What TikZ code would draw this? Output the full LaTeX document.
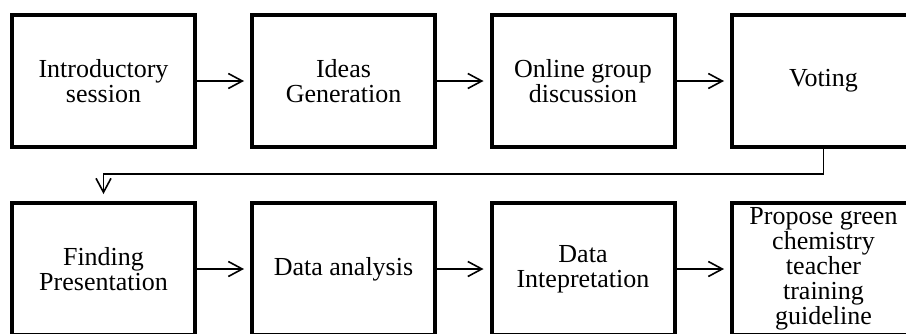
\documentclass[tikz,border=0pt]{standalone}
\usepackage{fontspec}
\setmainfont{Liberation Serif}
\usetikzlibrary{arrows.meta}
\tikzset{
	stagebox/.style={draw, line width=2pt, minimum width=91.5pt, minimum height=66pt, align=center, font=\fontsize{13}{12.5}\selectfont, inner sep=0pt},
	flowarrow/.style={line width=0.8pt, -{Straight Barb[length=7pt, width=7.5pt]}, shorten >=3pt},
}
\begin{document}
\begin{tikzpicture}[x=0.5pt, y=-0.5pt]
	\useasboundingbox (0, 0) rectangle (906, 333);
	\node[stagebox] (intro) at (103.5, 81) {Introductory\\session};
	\node[stagebox] (ideas) at (343.5, 81) {Ideas\\Generation};
	\node[stagebox] (online) at (583, 81) {Online group\\discussion};
	\node[stagebox] (vote) at (823.5, 81) {Voting};
	\node[stagebox] (find) at (103.5, 269) {Finding\\Presentation};
	\node[stagebox] (analysis) at (343.5, 269) {Data analysis};
	\node[stagebox] (interp) at (583, 269) {Data\\Intepretation};
	\node[stagebox] (guide) at (823.5, 269) {Propose green\\chemistry\\teacher\\training\\guideline};
	\draw[flowarrow] (intro) -- (ideas);
	\draw[flowarrow] (ideas) -- (online);
	\draw[flowarrow] (online) -- (vote);
	\draw[flowarrow, shorten >=3.5pt] (vote.south) -- ++(0, 25) -| (find.north);
	\draw[flowarrow] (find) -- (analysis);
	\draw[flowarrow] (analysis) -- (interp);
	\draw[flowarrow] (interp) -- (guide);
\end{tikzpicture}
\end{document}
